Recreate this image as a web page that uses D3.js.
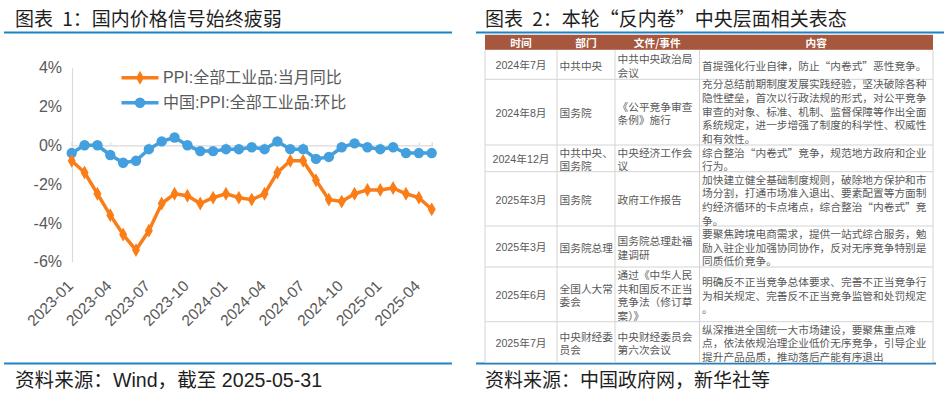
<!DOCTYPE html>
<html>
<head>
<meta charset="utf-8">
<script src="https://cdn.jsdelivr.net/npm/d3@7"></script>
<style>
  html, body { margin: 0; padding: 0; background: #fff; }
  svg { display: block; font-family: "Liberation Sans", "Noto Sans CJK SC", sans-serif; }
  .cjk { font-family: "Noto Sans CJK SC", "Liberation Sans", sans-serif; }
  .ttl { white-space: pre; word-spacing: 5px; }
</style>
</head>
<body>
<svg id="c" width="944" height="394"></svg>
<script>
// ---------------- DATA ----------------
const months = ["2023-01","2023-02","2023-03","2023-04","2023-05","2023-06","2023-07","2023-08","2023-09","2023-10","2023-11","2023-12",
                "2024-01","2024-02","2024-03","2024-04","2024-05","2024-06","2024-07","2024-08","2024-09","2024-10","2024-11","2024-12",
                "2025-01","2025-02","2025-03","2025-04","2025-05"];
const ppiYoY = [-0.8,-1.4,-2.5,-3.6,-4.6,-5.4,-4.4,-3.0,-2.5,-2.6,-3.0,-2.7,
                -2.5,-2.7,-2.8,-2.5,-1.4,-0.8,-0.8,-1.8,-2.8,-2.9,-2.5,-2.3,
                -2.3,-2.2,-2.5,-2.7,-3.3];
const ppiMoM = [-0.4,0.0,0.0,-0.5,-0.9,-0.8,-0.2,0.2,0.4,0.0,-0.3,-0.3,
                -0.2,-0.2,-0.1,-0.2,0.2,-0.2,-0.2,-0.7,-0.6,-0.1,0.1,-0.1,
                -0.2,-0.1,-0.4,-0.4,-0.4];
const xTickLabels = ["2023-01","2023-04","2023-07","2023-10","2024-01","2024-04","2024-07","2024-10","2025-01","2025-04"];
const yTickValues = [-6,-4,-2,0,2,4];
const seriesNames = ["PPI:全部工业品:当月同比","中国:PPI:全部工业品:环比"];

const title1 = "图表 1：国内价格信号始终疲弱";
const source1 = "资料来源：Wind，截至 2025-05-31";
const title2 = "图表 2：本轮“反内卷”中央层面相关表态";
const source2 = "资料来源：中国政府网，新华社等";

const tableHeaders = ["时间","部门","文件/事件","内容"];
const tableTimes = ["2024年7月","2024年8月","2024年12月","2025年3月","2025年3月","2025年6月","2025年7月"];
const tableDepts = [["中共中央"],["国务院"],["中共中央、","国务院"],["国务院"],["国务院总理"],["全国人大常","委会"],["中央财经委","员会"]];
const tableDocs = [["中共中央政治局","会议"],["《公平竞争审查","条例》施行"],["中央经济工作会","议"],["政府工作报告"],["国务院总理赴福","建调研"],
                   ["通过《中华人民","共和国反不正当","竞争法（修订草","案）》"],["中央财经委员会","第六次会议"]];
const tableContents = [
  ["首提强化行业自律，防止“内卷式”恶性竞争。"],
  ["充分总结前期制度发展实践经验，坚决破除各种","隐性壁垒，首次以行政法规的形式，对公平竞争","审查的对象、标准、机制、监督保障等作出全面","系统规定，进一步增强了制度的科学性、权威性","和有效性。"],
  ["综合整治“内卷式”竞争，规范地方政府和企业","行为。"],
  ["加快建立健全基础制度规则，破除地方保护和市","场分割，打通市场准入退出、要素配置等方面制","约经济循环的卡点堵点，综合整治“内卷式”竞","争。"],
  ["要聚焦跨境电商需求，提供一站式综合服务，勉","励入驻企业加强协同协作，反对无序竞争特别是","同质低价竞争。"],
  ["明确反不正当竞争总体要求、完善不正当竞争行","为相关规定、完善反不正当竞争监管和处罚规定","。"],
  ["纵深推进全国统一大市场建设，要聚焦重点难","点，依法依规治理企业低价无序竞争，引导企业","提升产品品质，推动落后产能有序退出"]
];

// ---------------- STYLE / LAYOUT ----------------
const ORANGE = "#fb7d18";
const BLUE = "#439fdd";
const RULE = "#1a84c7";
const TXT = "#595959";
const svg = d3.select("#c");

// ===== Left panel =====
svg.append("text").attr("class", "cjk ttl").attr("x", 15).attr("y", 17).attr("dominant-baseline", "central")
  .attr("font-size", 19).attr("fill", "#1e1e1e").text(title1);
svg.append("line").attr("x1", 4).attr("x2", 452).attr("y1", 32.5).attr("y2", 32.5)
  .attr("stroke", RULE).attr("stroke-width", 2);
svg.append("line").attr("x1", 4).attr("x2", 452).attr("y1", 363.5).attr("y2", 363.5)
  .attr("stroke", RULE).attr("stroke-width", 2);
svg.append("text").attr("x", 15).attr("y", 380).attr("dominant-baseline", "central")
  .attr("font-size", 19.6).attr("fill", "#1e1e1e").text(source1);

const x = d3.scalePoint().domain(months).range([71.7, 431.7]);
const y = d3.scaleLinear().domain([-6, 4]).range([261.7, 67.7]);

// y axis
const yAxis = svg.append("g").attr("transform", "translate(72,0)")
  .call(d3.axisLeft(y).tickValues(yTickValues).tickFormat(d => d + "%").tickSize(0).tickPadding(10));
yAxis.select(".domain").attr("stroke", "#d9d9d9").attr("stroke-width", 1.2);
yAxis.selectAll("text").attr("font-size", 16).attr("fill", TXT).attr("font-family", "Liberation Sans, sans-serif");

// x axis line at 0 with small upward ticks
const xAxis0 = svg.append("g").attr("transform", `translate(0,${y(0)})`)
  .call(d3.axisBottom(x).tickValues(xTickLabels).tickSize(-3).tickFormat(""));
xAxis0.select(".domain").attr("stroke", "#d9d9d9").attr("stroke-width", 1.2);
xAxis0.selectAll(".tick line").attr("stroke", "#d9d9d9");

// x labels below
const xLab = svg.append("g").attr("transform", "translate(0,283)")
  .call(d3.axisBottom(x).tickValues(xTickLabels).tickSize(0));
xLab.select(".domain").remove();
xLab.selectAll("text")
  .attr("font-size", 15.5).attr("fill", TXT).attr("font-family", "Liberation Sans, sans-serif")
  .attr("text-anchor", "end").attr("dy", "0.35em").attr("y", 0).attr("x", 0)
  .attr("transform", "translate(-2,0) rotate(-45)");

// series
const lineGen = d3.line().x((d, i) => x(months[i])).y(d => y(d));
svg.append("path").datum(ppiMoM).attr("d", lineGen).attr("fill", "none")
  .attr("stroke", BLUE).attr("stroke-width", 3.5).attr("stroke-linejoin", "round");
svg.append("g").selectAll("circle").data(ppiMoM).join("circle")
  .attr("cx", (d, i) => x(months[i])).attr("cy", d => y(d)).attr("r", 5.2).attr("fill", BLUE);

svg.append("path").datum(ppiYoY).attr("d", lineGen).attr("fill", "none")
  .attr("stroke", ORANGE).attr("stroke-width", 3.5).attr("stroke-linejoin", "round");
const diamond = d3.symbol().type(d3.symbolDiamond).size(34);
svg.append("g").selectAll("path").data(ppiYoY).join("path")
  .attr("transform", (d, i) => `translate(${x(months[i])},${y(d)})`)
  .attr("d", diamond).attr("fill", ORANGE).attr("stroke", ORANGE).attr("stroke-width", 1.5);

// legend
const legendY = [77.7, 102.7];
const legendColors = [ORANGE, BLUE];
seriesNames.forEach((name, i) => {
  const g = svg.append("g");
  g.append("line").attr("x1", 121.5).attr("x2", 158.5).attr("y1", legendY[i]).attr("y2", legendY[i])
    .attr("stroke", legendColors[i]).attr("stroke-width", 3.5);
  if (i === 0) {
    g.append("path").attr("transform", `translate(140,${legendY[i]})`).attr("d", diamond)
      .attr("fill", ORANGE).attr("stroke", ORANGE).attr("stroke-width", 1.5);
  } else {
    g.append("circle").attr("cx", 140).attr("cy", legendY[i]).attr("r", 5.2).attr("fill", BLUE);
  }
  g.append("text").attr("x", 163).attr("y", legendY[i]).attr("dominant-baseline", "central")
    .attr("font-size", 16).attr("fill", TXT).text(name);
});

// ===== Right panel =====
svg.append("text").attr("class", "cjk ttl").attr("x", 485).attr("y", 17).attr("dominant-baseline", "central")
  .attr("font-size", 19).attr("fill", "#1e1e1e").text(title2);
svg.append("line").attr("x1", 476).attr("x2", 944).attr("y1", 32.5).attr("y2", 32.5)
  .attr("stroke", RULE).attr("stroke-width", 2);
svg.append("line").attr("x1", 476).attr("x2", 936).attr("y1", 363.5).attr("y2", 363.5)
  .attr("stroke", RULE).attr("stroke-width", 2);
svg.append("text").attr("class", "cjk").attr("x", 485).attr("y", 378.5).attr("dominant-baseline", "central")
  .attr("font-size", 19).attr("fill", "#1e1e1e").text(source2);

const colX = [485, 557, 615, 699.5, 933];
const headTop = 34.8, headBot = 49.8;
const rowY = [49.8, 79.3, 145, 171.7, 226, 267, 321.7, 362.5];
const FS = 10.7, LH = 13.6;

const tbl = svg.append("g");
tbl.append("rect").attr("x", colX[0]).attr("y", headTop).attr("width", colX[4] - colX[0])
  .attr("height", headBot - headTop).attr("fill", "#a6573d");
tableHeaders.forEach((h, i) => {
  tbl.append("text").attr("class", "cjk").attr("x", (colX[i] + colX[i + 1]) / 2).attr("y", (headTop + headBot) / 2 + 0.5)
    .attr("text-anchor", "middle").attr("dominant-baseline", "central")
    .attr("font-size", FS).attr("font-weight", "bold").attr("fill", "#fff").text(h);
});

// grid lines
const gridC = "#d4d4d4";
for (let r = 1; r < rowY.length; r++) {
  tbl.append("line").attr("x1", colX[0]).attr("x2", colX[4]).attr("y1", rowY[r]).attr("y2", rowY[r])
    .attr("stroke", gridC).attr("stroke-width", 1);
}
colX.forEach(cx => {
  tbl.append("line").attr("x1", cx).attr("x2", cx).attr("y1", headBot).attr("y2", rowY[rowY.length - 1])
    .attr("stroke", gridC).attr("stroke-width", 1);
});

function cellLines(lines, colIdx, r, align, cls) {
  const cy = (rowY[r] + rowY[r + 1]) / 2;
  const n = lines.length;
  const h = rowY[r + 1] - rowY[r];
  const tight = (n - 1) * LH > h - 13;
  const off = tight ? -1 : 0.8;
  lines.forEach((t, k) => {
    const tx = align === "middle" ? (colX[colIdx] + colX[colIdx + 1]) / 2 : colX[colIdx] + 2.5;
    const el = tbl.append("text").attr("x", tx).attr("y", cy + (k - (n - 1) / 2) * LH + off)
      .attr("text-anchor", align === "middle" ? "middle" : "start")
      .attr("dominant-baseline", "central").attr("font-size", FS).attr("fill", TXT).text(t);
    if (cls) el.attr("class", cls);
  });
}
tableTimes.forEach((t, r) => {
  cellLines([t], 0, r, "middle", null);
  cellLines(tableDepts[r], 1, r, "start", "cjk");
  cellLines(tableDocs[r], 2, r, "start", "cjk");
  cellLines(tableContents[r], 3, r, "start", "cjk");
});
</script>
</body>
</html>
